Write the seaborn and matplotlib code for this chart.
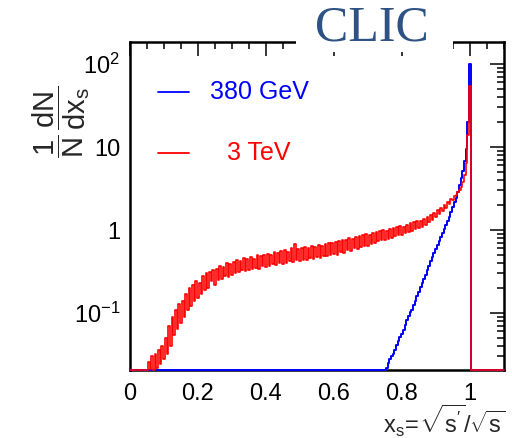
import numpy as np
import pandas as pd
import matplotlib
matplotlib.use("Agg")
import matplotlib.pyplot as plt
from matplotlib.patches import Rectangle
from matplotlib.lines import Line2D
from matplotlib.ticker import FixedLocator, FixedFormatter, MultipleLocator, NullFormatter, LogLocator
import seaborn as sns

# ---------------- data ----------------
bin_width = 0.005
x_max = 1.1
# 3 TeV spectrum, bin centres from 0.050 to 1.000 (step 0.005)
red_start = 0.05
red_values = [
    0.02, 0.026, 0.021, 0.03, 0.02, 0.032, 0.022, 0.036, 0.024, 0.04,
    0.028, 0.05, 0.032, 0.07, 0.04, 0.09, 0.055, 0.11, 0.065, 0.13,
    0.075, 0.14, 0.09, 0.17, 0.11, 0.2, 0.12, 0.22, 0.14, 0.24,
    0.15, 0.23, 0.17, 0.28, 0.19, 0.3, 0.2, 0.31, 0.24, 0.33,
    0.22, 0.34, 0.25, 0.37, 0.26, 0.36, 0.28, 0.4, 0.27, 0.39,
    0.29, 0.41, 0.3, 0.43, 0.31, 0.42, 0.33, 0.46, 0.32, 0.45,
    0.33, 0.47, 0.34, 0.45, 0.35, 0.5, 0.34, 0.48, 0.37, 0.5,
    0.36, 0.52, 0.37, 0.5, 0.39, 0.55, 0.38, 0.53, 0.4, 0.56,
    0.39, 0.58, 0.4, 0.55, 0.42, 0.6, 0.41, 0.68, 0.43, 0.59,
    0.42, 0.6, 0.44, 0.62, 0.43, 0.61, 0.46, 0.64, 0.45, 0.63,
    0.47, 0.66, 0.46, 0.64, 0.49, 0.68, 0.48, 0.7, 0.5, 0.69,
    0.51, 0.72, 0.5, 0.74, 0.54, 0.76, 0.53, 0.75, 0.57, 0.8,
    0.56, 0.79, 0.6, 0.82, 0.59, 0.85, 0.63, 0.86, 0.65, 0.9,
    0.64, 0.88, 0.68, 0.93, 0.7, 0.95, 0.73, 0.97, 0.76, 1.0,
    0.75, 0.97, 0.79, 1.03, 0.8, 1.06, 0.84, 1.08, 0.86, 1.12,
    0.87, 1.1, 0.92, 1.16, 0.94, 1.2, 0.98, 1.25, 1.02, 1.28,
    1.05, 1.3, 1.1, 1.36, 1.16, 1.42, 1.24, 1.5, 1.32, 1.6,
    1.45, 1.72, 1.55, 1.85, 1.7, 1.98, 1.85, 2.15, 2.05, 2.35,
    2.3, 2.6, 2.65, 2.85, 3.0, 3.3, 3.8, 4.6, 6.5, 14.0,
    55.0,
]
# 380 GeV spectrum, bin centres from 0.750 to 1.000 (step 0.005)
blue_start = 0.75
blue_values = [
    0.019, 0.022, 0.025, 0.028, 0.030, 0.032, 0.036, 0.041, 0.046, 0.051,
    0.056, 0.063, 0.072, 0.082, 0.092, 0.102, 0.110, 0.125, 0.14, 0.16,
    0.18, 0.205, 0.23, 0.26, 0.29, 0.33, 0.37, 0.42, 0.47, 0.53,
    0.59, 0.66, 0.74, 0.83, 0.93, 1.04, 1.14, 1.28, 1.45, 1.65,
    1.9, 2.15, 2.45, 2.9, 3.5, 4.2, 5.2, 6.8, 9.5, 20.0,
    100.0,
]
series_labels = ["380 GeV", "3 TeV"]
series_colors = ["#0000ff", "#ff0000"]
x_ticks = [0, 0.2, 0.4, 0.6, 0.8, 1.0]
x_ticklabels = ["0", "0.2", "0.4", "0.6", "0.8", "1"]
y_ticks = [0.1, 1, 10, 100]
y_ticklabels = [r"$10^{-1}$", "1", "10", r"$10^{2}$"]
y_min, y_max = 0.0206, 184.0

# ---------------- build table ----------------
centres = np.round(np.arange(0, x_max + bin_width / 2, bin_width), 4)

def full(start, vals):
    arr = np.zeros_like(centres)
    i0 = int(round(start / bin_width))
    arr[i0:i0 + len(vals)] = vals
    return np.clip(arr, y_min, None)

df = pd.concat([
    pd.DataFrame({"x": centres, "y": full(blue_start, blue_values), "s": series_labels[0]}),
    pd.DataFrame({"x": centres, "y": full(red_start, red_values), "s": series_labels[1]}),
])

# ---------------- plot ----------------
sns.set_theme(style="white")
plt.rcParams["font.family"] = ["Liberation Sans", "DejaVu Sans"]
plt.rcParams["mathtext.fontset"] = "custom"
plt.rcParams["mathtext.rm"] = "Liberation Sans"
plt.rcParams["mathtext.it"] = "Liberation Sans"
plt.rcParams["mathtext.bf"] = "Liberation Sans:bold"
plt.rcParams["mathtext.sf"] = "Liberation Sans"

fig = plt.figure(figsize=(5.12, 4.38), dpi=100)
ax = fig.add_axes([130 / 512, 1 - 370 / 438, (504 - 130) / 512, (370 - 42) / 438])

for lab, col, lw in zip(series_labels, series_colors, [1.4, 1.2]):
    sns.lineplot(data=df[df["s"] == lab], x="x", y="y", ax=ax, color=col,
                 linewidth=lw, drawstyle="steps-mid", estimator=None,
                 sort=True, legend=False, zorder=3, clip_on=False)

ax.set_yscale("log")
ax.set_xlim(0, x_max)
ax.set_ylim(y_min, y_max)
ax.set_xlabel("")
ax.set_ylabel("")

ax.xaxis.set_major_locator(FixedLocator(x_ticks))
ax.xaxis.set_major_formatter(FixedFormatter(x_ticklabels))
ax.xaxis.set_minor_locator(MultipleLocator(0.05))
ax.yaxis.set_major_locator(FixedLocator(y_ticks))
ax.yaxis.set_major_formatter(FixedFormatter(y_ticklabels))
ax.yaxis.set_minor_locator(LogLocator(base=10, subs=np.arange(2, 10)))
ax.yaxis.set_minor_formatter(NullFormatter())

ax.tick_params(which="both", direction="in", top=True, right=True, colors="black",
               labelsize=17, width=1.1)
ax.tick_params(which="major", length=10)
ax.tick_params(which="minor", length=5)
ax.tick_params(axis="x", which="major", pad=9)
ax.tick_params(axis="y", which="major", pad=7)
for sp in ax.spines.values():
    sp.set_visible(True)
    sp.set_color("black")
    sp.set_linewidth(1.8)

# legend (manual, ROOT style)
def fx(px):
    return px / 512

def fy(py):
    return 1 - py / 438

for (lab, col, ly, tx) in [(series_labels[0], series_colors[0], 92, 259),
                           (series_labels[1], series_colors[1], 153, 259)]:
    fig.add_artist(Line2D([fx(158), fx(189)], [fy(ly), fy(ly)], color=col,
                          linewidth=1.3, transform=fig.transFigure))
    fig.text(fx(tx), fy(ly), lab, color=col, fontsize=18, ha="center", va="center")

# y label
fig.text(fx(61), fy(122), r"$\dfrac{1}{\mathrm{N}}\,\dfrac{\mathrm{dN}}{\mathrm{dx_s}}$",
         rotation=90, ha="center", va="center", fontsize=21)
# x label
fig.text(fx(505), fy(421), r"$\mathrm{x_s}\!=\!\sqrt{\mathrm{s}'}/\sqrt{\mathrm{s}}$",
         ha="right", va="center", fontsize=17)

# CLIC logo text with white background interrupting the frame
fig.patches.append(Rectangle((fx(296), fy(52)), fx(453) - fx(296), (52 - 20) / 438,
                             transform=fig.transFigure, facecolor="white",
                             edgecolor="none", zorder=5))
fig.text(fx(372), fy(28), "CLIC", fontsize=36, color="#2d5283",
         family=["Liberation Serif", "DejaVu Serif"], ha="center", va="center",
         zorder=6)

fig.savefig("out.png", dpi=100)
